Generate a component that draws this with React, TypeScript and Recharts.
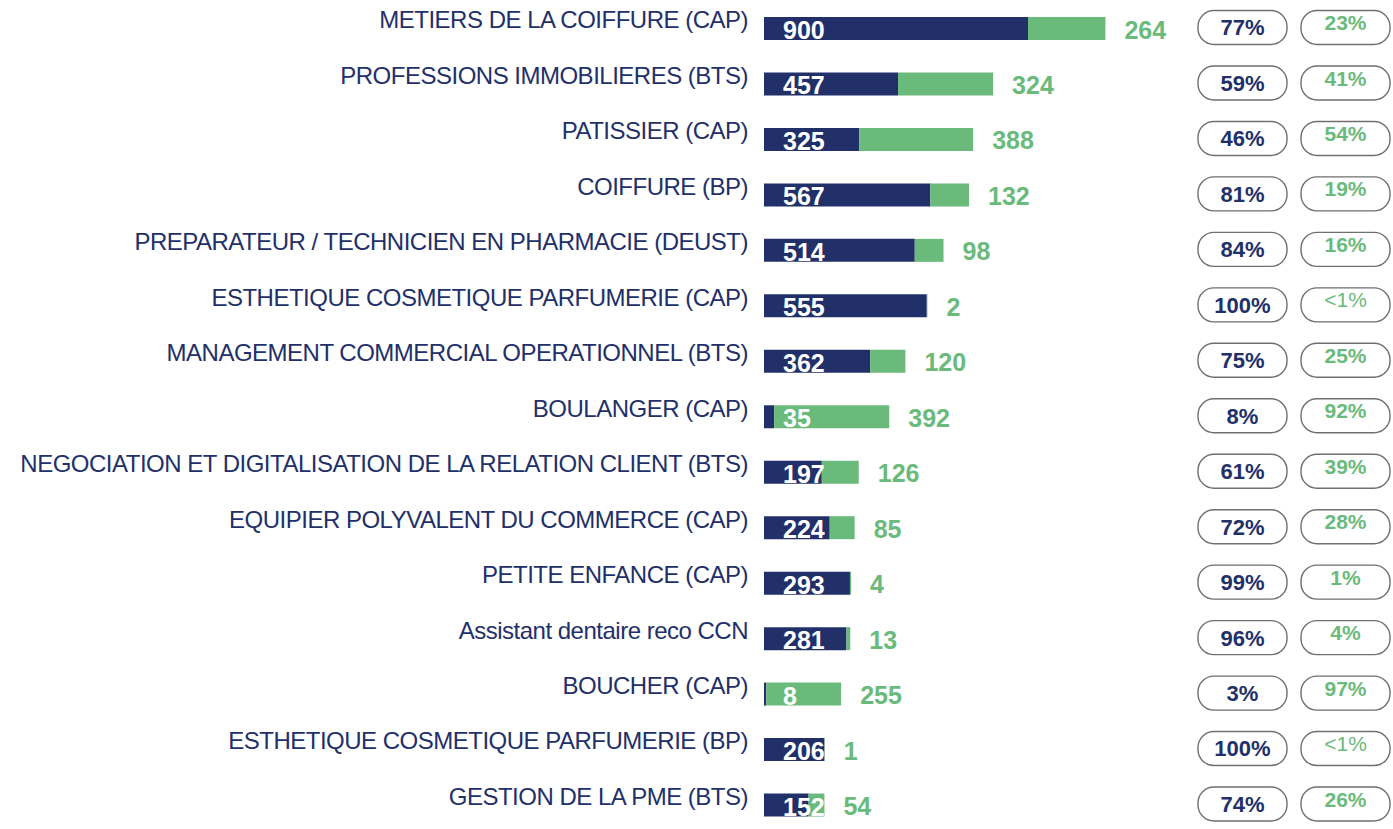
import { BarChart, Bar, XAxis, YAxis, LabelList } from 'recharts';

// values
const formations = [
  'METIERS DE LA COIFFURE (CAP)',
  'PROFESSIONS IMMOBILIERES (BTS)',
  'PATISSIER (CAP)',
  'COIFFURE (BP)',
  'PREPARATEUR / TECHNICIEN EN PHARMACIE (DEUST)',
  'ESTHETIQUE COSMETIQUE PARFUMERIE (CAP)',
  'MANAGEMENT COMMERCIAL OPERATIONNEL (BTS)',
  'BOULANGER (CAP)',
  'NEGOCIATION ET DIGITALISATION DE LA RELATION CLIENT (BTS)',
  'EQUIPIER POLYVALENT DU COMMERCE (CAP)',
  'PETITE ENFANCE (CAP)',
  'Assistant dentaire reco CCN',
  'BOUCHER (CAP)',
  'ESTHETIQUE COSMETIQUE PARFUMERIE (BP)',
  'GESTION DE LA PME (BTS)',
];
const blueValues = [900, 457, 325, 567, 514, 555, 362, 35, 197, 224, 293, 281, 8, 206, 152];
const greenValues = [264, 324, 388, 132, 98, 2, 120, 392, 126, 85, 4, 13, 255, 1, 54];
const bluePct = ['77%', '59%', '46%', '81%', '84%', '100%', '75%', '8%', '61%', '72%', '99%', '96%', '3%', '100%', '74%'];
const greenPct = ['23%', '41%', '54%', '19%', '16%', '<1%', '25%', '92%', '39%', '28%', '1%', '4%', '97%', '<1%', '26%'];

const data = formations.map((name, i) => ({
  name,
  blue: blueValues[i],
  green: greenValues[i],
  lp: bluePct[i],
  rp: greenPct[i],
}));

const NAVY = '#22306a';
const GREEN = '#6aba7b';
const FONT = '"Liberation Sans", Arial, sans-serif';

const CategoryTick = (props: any) => {
  const { x, y, payload } = props;
  return (
    <text
      x={x - 8}
      y={y - 9}
      dy="0.36em"
      textAnchor="end"
      fill={NAVY}
      fontSize={24}
      letterSpacing={-0.5}
      fontFamily={FONT}
    >
      {payload.value}
    </text>
  );
};

const InsideLabel = (props: any) => {
  const { x, y, height, value } = props;
  return (
    <text
      x={x + 19}
      y={y + height / 2 + 1.5}
      dy="0.36em"
      fill="#fff"
      fontSize={25}
      fontWeight="bold"
      fontFamily={FONT}
    >
      {value}
    </text>
  );
};

const EndLabel = (props: any) => {
  const { x, y, width, height, value } = props;
  return (
    <text
      x={x + width + 19}
      y={y + height / 2 + 1}
      dy="0.36em"
      fill={GREEN}
      fontSize={25}
      fontWeight="bold"
      fontFamily={FONT}
    >
      {value}
    </text>
  );
};

const Pill = (props: any) => {
  const { y, height, value, left, color, textDy, bold, fontSize } = props;
  const cy = y + height / 2 - 1;
  return (
    <g>
      <rect x={left} y={cy - 17} width={89} height={34} rx={16} fill="none" stroke="#6f6f6f" strokeWidth={1.4} />
      <text
        x={left + 44.5}
        y={cy + textDy}
        dy="0.36em"
        textAnchor="middle"
        fill={color}
        fontSize={fontSize}
        fontWeight={bold ? 'bold' : 'normal'}
        fontFamily={FONT}
      >
        {value}
      </text>
    </g>
  );
};

const App = () => {
  return (
    <div style={{ position: 'absolute', left: 0, top: 0, width: 1393, height: 829, overflow: 'hidden', background: '#fff' }}>
      <BarChart
        width={1393}
        height={835}
        data={data}
        layout="vertical"
        margin={{ top: 1, right: 189, left: 0, bottom: 2 }}
        barSize={23}
      >
        <XAxis type="number" hide domain={[0, 1500]} />
        <YAxis
          type="category"
          dataKey="name"
          width={764}
          axisLine={false}
          tickLine={false}
          interval={0}
          tick={<CategoryTick />}
        />
        <Bar dataKey="blue" stackId="a" fill={NAVY} isAnimationActive={false}>
          <LabelList dataKey="blue" content={<InsideLabel />} />
        </Bar>
        <Bar dataKey="green" stackId="a" fill={GREEN} isAnimationActive={false}>
          <LabelList dataKey="green" content={<EndLabel />} />
          <LabelList
            dataKey="lp"
            content={(p: any) => <Pill {...p} left={1198} color={NAVY} textDy={0} bold fontSize={22} />}
          />
          <LabelList
            dataKey="rp"
            content={(p: any) => (
              <Pill {...p} left={1301} color={GREEN} textDy={-5} bold={p.value !== '<1%'} fontSize={21} />
            )}
          />
        </Bar>
      </BarChart>
    </div>
  );
};

export default App;
